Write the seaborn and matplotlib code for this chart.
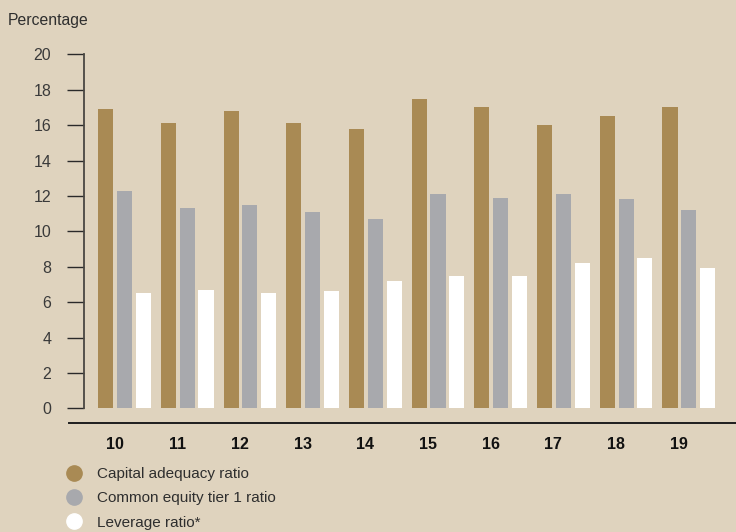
import numpy as np
import pandas as pd
import matplotlib
matplotlib.use("Agg")
import matplotlib.pyplot as plt
from matplotlib.lines import Line2D
import seaborn as sns

# Ratios by year, in percent
years = ["10", "11", "12", "13", "14", "15", "16", "17", "18", "19"]
capital_adequacy = [16.9, 16.1, 16.8, 16.1, 15.8, 17.5, 17.0, 16.0, 16.5, 17.0]
cet1 = [12.3, 11.3, 11.5, 11.1, 10.7, 12.1, 11.9, 12.1, 11.8, 11.2]
leverage = [6.5, 6.7, 6.5, 6.6, 7.2, 7.5, 7.5, 8.2, 8.5, 7.9]
series_names = ["Capital adequacy ratio", "Common equity tier 1 ratio", "Leverage ratio*"]
y_ticks = [0, 2, 4, 6, 8, 10, 12, 14, 16, 18, 20]

BG = "#DFD3BE"
GOLD = "#A98A54"
GREY = "#A8A9AD"
WHITE = "#FFFFFF"
INK = "#2E2E2E"

df = pd.DataFrame({
    "year": np.repeat(years, 3),
    "series": series_names * len(years),
    "value": np.ravel(np.column_stack([capital_adequacy, cet1, leverage])),
})

sns.set_theme(style="white")
plt.rcParams["font.family"] = ["Liberation Sans", "DejaVu Sans"]
plt.rcParams["text.color"] = INK

fig = plt.figure(figsize=(7.36, 5.32), dpi=100, facecolor=BG)
ax = fig.add_axes([69 / 736, 1 - 423 / 532, 1 - 69 / 736, (423 - 54.3) / 532])
ax.set_facecolor(BG)

sns.barplot(data=df, x="year", y="value", hue="series", order=years,
            hue_order=series_names, palette=[GOLD, GREY, WHITE],
            width=0.9, gap=0.2, saturation=1, linewidth=0, ax=ax,
            legend=False, errorbar=None)

ax.set_xlim(-0.885, 9.753)
ax.set_ylim(-0.83, 20.0)

for side in ["top", "right"]:
    ax.spines[side].set_visible(False)
ax.spines["left"].set_position(("data", -0.646))
ax.spines["left"].set_bounds(0, 20)
ax.spines["left"].set_color("#4A4742")
ax.spines["left"].set_linewidth(1.3)
ax.spines["bottom"].set_color("#1E1E1E")
ax.spines["bottom"].set_linewidth(1.4)

ax.set_yticks(y_ticks)
ax.set_yticklabels([str(t) for t in y_ticks], fontsize=11.5, color="#3A3A3A")
ax.tick_params(axis="y", direction="out", length=12, width=1.0,
               color="#2A2A2A", pad=11.5, left=True)

ax.set_xticks(np.arange(len(years)) - 0.16)
ax.set_xticklabels(years, fontsize=11.5, fontweight="bold", color="#111111")
ax.tick_params(axis="x", length=0, pad=10)
ax.set_xlabel("")
ax.set_ylabel("")

fig.text(8 / 736, 1 - 20 / 532, "Percentage", fontsize=11.3, color=INK,
         ha="left", va="center")

handles = [Line2D([0], [0], marker="o", linestyle="none", markersize=11,
                  markerfacecolor=c, markeredgecolor=c)
           for c in [GOLD, GREY, WHITE]]
fig.legend(handles, series_names, loc="upper left",
           bbox_to_anchor=(64.8 / 736, 1 - 467 / 532), frameon=False,
           fontsize=11, handletextpad=0.9, labelspacing=0.68,
           handlelength=1.2, borderaxespad=0, borderpad=0)

fig.savefig("out.png", dpi=100, facecolor=BG)
